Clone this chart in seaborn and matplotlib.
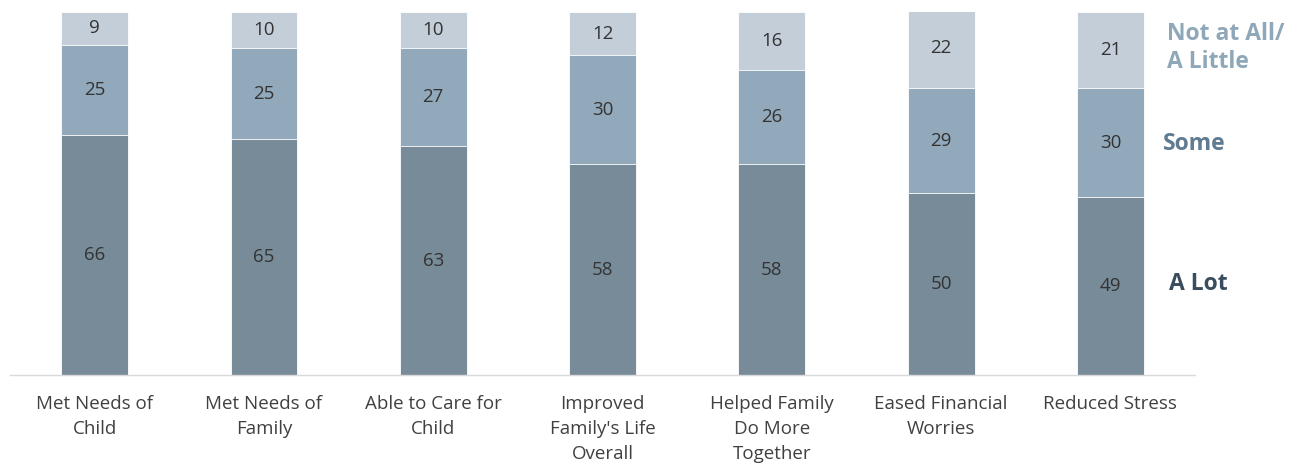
import numpy as np
import pandas as pd
import matplotlib
matplotlib.use("Agg")
import matplotlib.pyplot as plt
import seaborn as sns

# data
categories = ["Met Needs of\nChild", "Met Needs of\nFamily", "Able to Care for\nChild",
              "Improved\nFamily's Life\nOverall", "Helped Family\nDo More\nTogether",
              "Eased Financial\nWorries", "Reduced Stress"]
a_lot = [66, 65, 63, 58, 58, 50, 49]
some = [25, 25, 27, 30, 26, 29, 30]
little = [9, 10, 10, 12, 16, 22, 21]

c_lot, c_some, c_little = "#778b99", "#91a9ba", "#c3ced8"

sns.set_theme(style="white")
plt.rcParams["font.family"] = ["Open Sans", "DejaVu Sans"]

df = pd.DataFrame({"cat": categories, "lot": a_lot, "some": some, "little": little})
df["top_some"] = df["lot"] + df["some"]
df["top_all"] = df["top_some"] + df["little"]

fig = plt.figure(figsize=(12.98, 4.73), dpi=100)
ax = fig.add_axes([0.0077, 0.207, 0.913, 0.768])

sns.barplot(data=df, x="cat", y="top_all", color=c_little, width=0.395, saturation=1, ax=ax)
sns.barplot(data=df, x="cat", y="top_some", color=c_some, width=0.395, saturation=1, ax=ax)
sns.barplot(data=df, x="cat", y="lot", color=c_lot, width=0.395, saturation=1, ax=ax)
for p in ax.patches:
    p.set_edgecolor("white")
    p.set_linewidth(0.6)

for i in range(len(categories)):
    ax.text(i, a_lot[i] / 2, str(a_lot[i]), ha="center", va="center", fontsize=13.5, color="#333333")
    ax.text(i, a_lot[i] + some[i] / 2, str(some[i]), ha="center", va="center", fontsize=13.5, color="#333333")
    ax.text(i, a_lot[i] + some[i] + little[i] / 2, str(little[i]), ha="center", va="center",
            fontsize=13.5, color="#333333")

ax.set_ylim(0, 100)
ax.set_xlim(-0.5, 6.5)
ax.set_xlabel(""); ax.set_ylabel("")
ax.set_yticks([])
ax.tick_params(axis="x", length=0, pad=14, labelsize=13.5, labelcolor="#404040")
for lbl in ax.get_xticklabels():
    lbl.set_linespacing(1.5)
for s in ["top", "right", "left"]:
    ax.spines[s].set_visible(False)
ax.spines["bottom"].set_color("#d9d9d9")
ax.spines["bottom"].set_linewidth(1)

# series labels on the right
fig.text(0.899, 0.899, "Not at All/\nA Little", fontsize=16.5, fontweight="bold", color="#8fa8b9",
         ha="left", va="center", linespacing=1.25)
fig.text(0.896, 0.696, "Some", fontsize=16.5, fontweight="bold", color="#5e7b91", ha="left", va="center")
fig.text(0.901, 0.40, "A Lot", fontsize=16.5, fontweight="bold", color="#3a4d5e", ha="left", va="center")

plt.savefig("out.png", dpi=100)
